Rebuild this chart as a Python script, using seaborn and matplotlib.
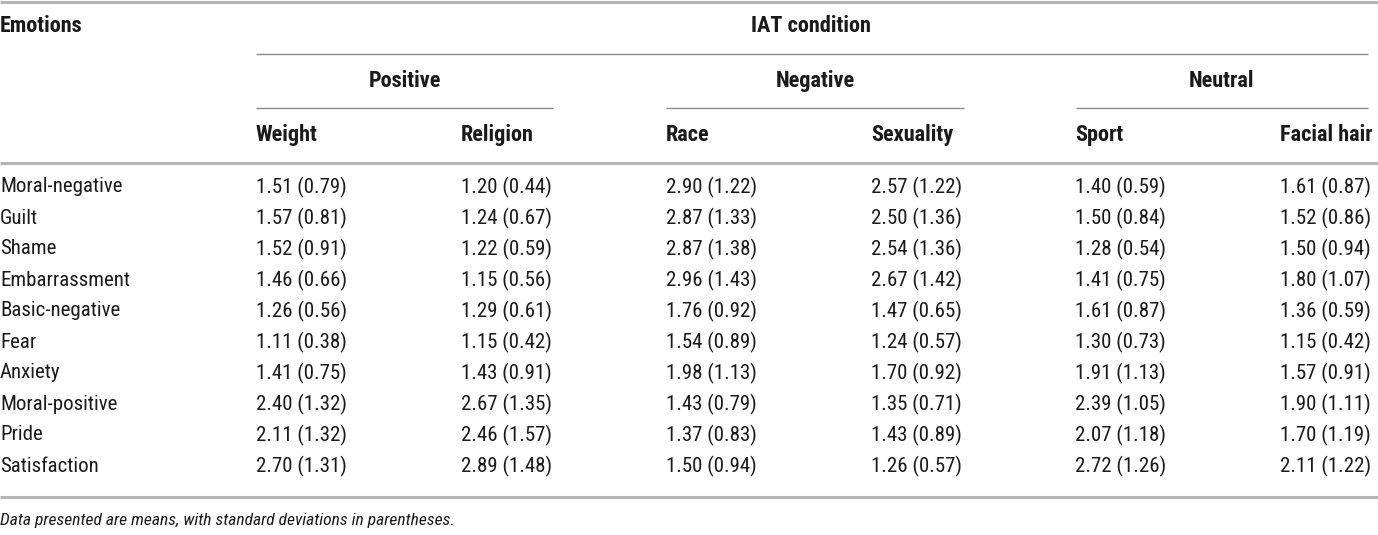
import numpy as np
import pandas as pd
import seaborn as sns
import matplotlib.pyplot as plt
from matplotlib import font_manager

emotions = ['Moral-negative', 'Guilt', 'Shame', 'Embarrassment', 'Basic-negative',
            'Fear', 'Anxiety', 'Moral-positive', 'Pride', 'Satisfaction']
groups = ['Positive', 'Negative', 'Neutral']
conditions = ['Weight', 'Religion', 'Race', 'Sexuality', 'Sport', 'Facial hair']

weight_mean = [1.51, 1.57, 1.52, 1.46, 1.26, 1.11, 1.41, 2.40, 2.11, 2.70]
weight_sd = [0.79, 0.81, 0.91, 0.66, 0.56, 0.38, 0.75, 1.32, 1.32, 1.31]
religion_mean = [1.20, 1.24, 1.22, 1.15, 1.29, 1.15, 1.43, 2.67, 2.46, 2.89]
religion_sd = [0.44, 0.67, 0.59, 0.56, 0.61, 0.42, 0.91, 1.35, 1.57, 1.48]
race_mean = [2.90, 2.87, 2.87, 2.96, 1.76, 1.54, 1.98, 1.43, 1.37, 1.50]
race_sd = [1.22, 1.33, 1.38, 1.43, 0.92, 0.89, 1.13, 0.79, 0.83, 0.94]
sexuality_mean = [2.57, 2.50, 2.54, 2.67, 1.47, 1.24, 1.70, 1.35, 1.43, 1.26]
sexuality_sd = [1.22, 1.36, 1.36, 1.42, 0.65, 0.57, 0.92, 0.71, 0.89, 0.57]
sport_mean = [1.40, 1.50, 1.28, 1.41, 1.61, 1.30, 1.91, 2.39, 2.07, 2.72]
sport_sd = [0.59, 0.84, 0.54, 0.75, 0.87, 0.73, 1.13, 1.05, 1.18, 1.26]
facial_mean = [1.61, 1.52, 1.50, 1.80, 1.36, 1.15, 1.57, 1.90, 1.70, 2.11]
facial_sd = [0.87, 0.86, 0.94, 1.07, 0.59, 0.42, 0.91, 1.11, 1.19, 1.22]

note = 'Data presented are means, with standard deviations in parentheses.'

# build the table
means = [weight_mean, religion_mean, race_mean, sexuality_mean, sport_mean, facial_mean]
sds = [weight_sd, religion_sd, race_sd, sexuality_sd, sport_sd, facial_sd]
df = pd.DataFrame({c: [f'{m:.2f} ({s:.2f})' for m, s in zip(mm, ss)]
                   for c, mm, ss in zip(conditions, means, sds)}, index=emotions)

sns.set_theme(style='white')
installed = {f.name for f in font_manager.fontManager.ttflist}
fam = [f for f in ['Liberation Sans Narrow', 'Roboto Condensed', 'Liberation Sans'] if f in installed]
plt.rcParams['font.family'] = fam + ['DejaVu Sans']

fig = plt.figure(figsize=(13.78, 5.35), dpi=100)
ax = fig.add_axes([0, 0, 1, 1])
ax.set_xlim(0, 1378)
ax.set_ylim(535, 0)
ax.axis('off')

fs = 15
fs_head = 16
col_x = [256, 461, 666, 871, 1075, 1280]
group_span = [(256, 553), (666, 964), (1076, 1368)]
text_col = '#1a1a1a'
rule_light = '#b5b5b5'
rule_mid = '#8c8c8c'

# rules
ax.hlines(2, 0, 1378, color=rule_light, lw=2.2)
ax.hlines(54, 256, 1368, color=rule_mid, lw=1.0)
for a, b in group_span:
    ax.hlines(108, a, b, color=rule_mid, lw=1.0)
ax.hlines(163, 0, 1378, color=rule_light, lw=2.2)
ax.hlines(497, 0, 1378, color=rule_light, lw=2.2)

# header
ax.text(0, 26, 'Emotions', fontsize=fs_head, fontweight='bold', va='center', ha='left', color=text_col)
ax.text(811, 26, 'IAT condition', fontsize=fs_head, fontweight='bold', va='center', ha='center', color=text_col)
for g, (a, b) in zip(groups, group_span):
    ax.text((a + b) / 2, 81, g, fontsize=fs_head, fontweight='bold', va='center', ha='center', color=text_col)
for c, x in zip(conditions, col_x):
    ax.text(x, 135, c, fontsize=fs_head, fontweight='bold', va='center', ha='left', color=text_col)

# body
row_y0, row_h = 187, 31
for i, emo in enumerate(df.index):
    y = row_y0 + i * row_h
    ax.text(0, y, emo, fontsize=fs, va='center', ha='left', color=text_col)
    for c, x in zip(df.columns, col_x):
        ax.text(x, y, df.loc[emo, c], fontsize=fs, va='center', ha='left', color=text_col)

ax.text(0, 521, note, fontsize=12.6, style='italic', va='center', ha='left', color=text_col)

fig.savefig('out.png', dpi=100)
